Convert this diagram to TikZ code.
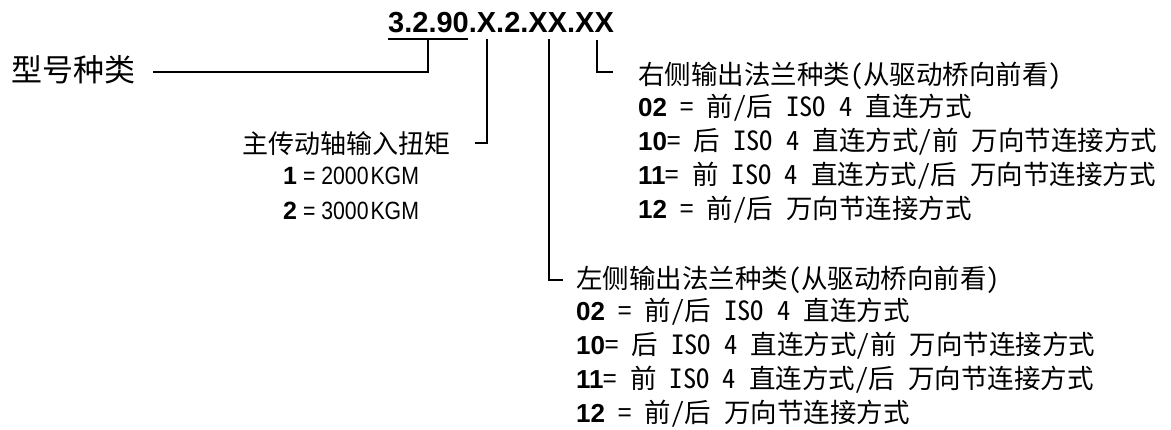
\documentclass[tikz,border=0pt]{standalone}
\usepackage{fontspec}
\setmainfont{Liberation Sans}
\newfontfamily\cjk[RawFeature=+hwid]{Noto Sans CJK SC}
\newfontfamily\narrowfont[FakeStretch=0.85]{Liberation Sans}
\usetikzlibrary{calc}
\newcommand\codenum[2][26]{{\normalfont\bfseries\fontsize{#1}{#1}\selectfont #2}}

\begin{document}
\begin{tikzpicture}[x=1pt, y=-1pt,
        lead/.style={line width=1.8pt},
        codeTxt/.style={anchor=base west, inner sep=0pt, font=\bfseries\fontsize{29}{34}\selectfont},
        headTxt/.style={anchor=base west, inner sep=0pt, font=\cjk\fontsize{26.5}{31}\selectfont},
        kgmTxt/.style={anchor=base west, inner sep=0pt, font=\narrowfont\fontsize{25}{29}\selectfont}]
    \useasboundingbox (0, 0) rectangle (1171, 430);

    % model code

    \node[codeTxt] (code) at (388, 32.5) {3.2.90.X.2.XX.XX};
    \draw[lead] ($ (code.base west) + (0, 6.5) $) -- ++(80, 0);

    \coordinate (segType) at ($ (code.base west) + (40, 6.5) $);
    \coordinate (segTorque) at ($ (code.base west) + (99, 6.5) $);
    \coordinate (segLeft) at ($ (code.base west) + (161, 6.5) $);
    \coordinate (segRight) at ($ (code.base west) + (209, 7.5) $);

    % type
    \node[headTxt, font=\cjk\fontsize{31}{36}\selectfont] (typeLbl) at (11, 82) {型号种类};
    \coordinate (typeEnd) at ($ (typeLbl.base east) + (18, -10) $);
    \draw[lead] (segType) |- (typeEnd);

    % torque
    \node[headTxt, font=\cjk\fontsize{26}{31}\selectfont] (torqueLbl) at (242, 154) {主传动轴输入扭矩};
    \coordinate (torqueEnd) at ($ (torqueLbl.base east) + (25, -11) $);
    \draw[lead] (segTorque) |- (torqueEnd);

    \foreach \v/\kgm [count=\n] in {1/2000, 2/3000}
        \node[kgmTxt] (torque\n) at ($ (torqueLbl.base west) + (41, \n * 35 - 4) $)
            {\codenum[25]{\v} = \kgm\hspace{2pt}KGM};

    % flanges
    \foreach \blk/\bx/\by/\side in {rf/638/84.5/右, lf/576/288.5/左}
        {
            \node[headTxt] (\blk-title) at (\bx, \by) {\side 侧输出法兰种类(从驱动桥向前看)};
            \foreach \code/\desc [count=\n] in {02/{ = 前/后 ISO 4 直连方式},
                    10/{= 后 ISO 4 直连方式/前 万向节连接方式},
                    11/{= 前 ISO 4 直连方式/后 万向节连接方式},
                    12/{ = 前/后 万向节连接方式}}
            \node[headTxt] (\blk-row\n) at ($ (\blk-title.base west) + (0, \n * 34 - 2) $)
                {\codenum{\code}\desc};
        }

    \coordinate (leftEnd) at ($ (lf-title.base west) + (-13, -8.5) $);
    \draw[lead] (segLeft) |- (leftEnd);

    \coordinate (rightEnd) at ($ (rf-title.base west) + (-25, -12.5) $);
    \draw[lead] (segRight) |- (rightEnd);
\end{tikzpicture}
\end{document}
